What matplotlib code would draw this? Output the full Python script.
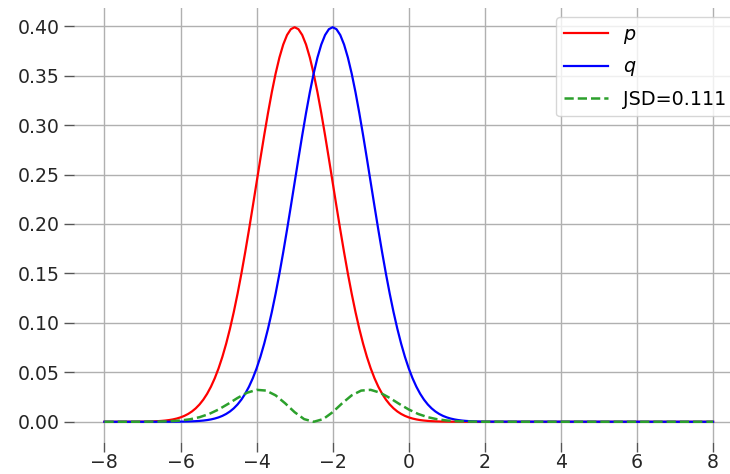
import matplotlib
matplotlib.use("Agg")
import matplotlib.pyplot as plt

# densities of p and q, on a 0.1 grid from -7 to 2
x_pq = [
    -7.0, -6.9, -6.8, -6.7, -6.6, -6.5, -6.4, -6.3, -6.2, -6.1,
    -6.0, -5.9, -5.8, -5.7, -5.6, -5.5, -5.4, -5.3, -5.2, -5.1,
    -5.0, -4.9, -4.8, -4.7, -4.6, -4.5, -4.4, -4.3, -4.2, -4.1,
    -4.0, -3.9, -3.8, -3.7, -3.6, -3.5, -3.4, -3.3, -3.2, -3.1,
    -3.0, -2.9, -2.8, -2.7, -2.6, -2.5, -2.4, -2.3, -2.2, -2.1,
    -2.0, -1.9, -1.8, -1.7, -1.6, -1.5, -1.4, -1.3, -1.2, -1.1,
    -1.0, -0.9, -0.8, -0.7, -0.6, -0.5, -0.4, -0.3, -0.2, -0.1,
    0.0, 0.1, 0.2, 0.3, 0.4, 0.5, 0.6, 0.7, 0.8, 0.9,
    1.0, 1.1, 1.2, 1.3, 1.4, 1.5, 1.6, 1.7, 1.8, 1.9,
    2.0,
]

p = [
    0.000134, 0.000199, 0.000292, 0.000425, 0.000612, 0.000873, 0.001232, 0.001723, 0.002384, 0.003267,
    0.004432, 0.005953, 0.007915, 0.010421, 0.013583, 0.017528, 0.022395, 0.028327, 0.035475, 0.043984,
    0.053991, 0.065616, 0.078950, 0.094049, 0.110921, 0.129518, 0.149727, 0.171369, 0.194186, 0.217852,
    0.241971, 0.266085, 0.289692, 0.312254, 0.333225, 0.352065, 0.368270, 0.381388, 0.391043, 0.396953,
    0.398942, 0.396953, 0.391043, 0.381388, 0.368270, 0.352065, 0.333225, 0.312254, 0.289692, 0.266085,
    0.241971, 0.217852, 0.194186, 0.171369, 0.149727, 0.129518, 0.110921, 0.094049, 0.078950, 0.065616,
    0.053991, 0.043984, 0.035475, 0.028327, 0.022395, 0.017528, 0.013583, 0.010421, 0.007915, 0.005953,
    0.004432, 0.003267, 0.002384, 0.001723, 0.001232, 0.000873, 0.000612, 0.000425, 0.000292, 0.000199,
    0.000134, 0.000089, 0.000059, 0.000039, 0.000025, 0.000016, 0.000010, 0.000006, 0.000004, 0.000002,
    0.000001,
]

q = [
    0.000001, 0.000002, 0.000004, 0.000006, 0.000010, 0.000016, 0.000025, 0.000039, 0.000059, 0.000089,
    0.000134, 0.000199, 0.000292, 0.000425, 0.000612, 0.000873, 0.001232, 0.001723, 0.002384, 0.003267,
    0.004432, 0.005953, 0.007915, 0.010421, 0.013583, 0.017528, 0.022395, 0.028327, 0.035475, 0.043984,
    0.053991, 0.065616, 0.078950, 0.094049, 0.110921, 0.129518, 0.149727, 0.171369, 0.194186, 0.217852,
    0.241971, 0.266085, 0.289692, 0.312254, 0.333225, 0.352065, 0.368270, 0.381388, 0.391043, 0.396953,
    0.398942, 0.396953, 0.391043, 0.381388, 0.368270, 0.352065, 0.333225, 0.312254, 0.289692, 0.266085,
    0.241971, 0.217852, 0.194186, 0.171369, 0.149727, 0.129518, 0.110921, 0.094049, 0.078950, 0.065616,
    0.053991, 0.043984, 0.035475, 0.028327, 0.022395, 0.017528, 0.013583, 0.010421, 0.007915, 0.005953,
    0.004432, 0.003267, 0.002384, 0.001723, 0.001232, 0.000873, 0.000612, 0.000425, 0.000292, 0.000199,
    0.000134,
]

# pointwise JSD term, 0.25 grid
x_jsd = [
    -7.0, -6.75, -6.5, -6.25, -6.0, -5.75, -5.5, -5.25, -5.0, -4.75,
    -4.5, -4.25, -4.0, -3.75, -3.5, -3.25, -3.0, -2.75, -2.5, -2.25,
    -2.0, -1.75, -1.5, -1.25, -1.0, -0.75, -0.5, -0.25, 0.0, 0.25,
    0.5, 0.75, 1.0, 1.25, 1.5, 1.75, 2.0,
]
jsd = [
    0.00004, 0.00012, 0.00028, 0.0006, 0.00129, 0.00252, 0.00463, 0.00787, 0.01241, 0.01805,
    0.0241, 0.02936, 0.03228, 0.03154, 0.02672, 0.01869, 0.00971, 0.00267, 0.0, 0.00267,
    0.00971, 0.01869, 0.02672, 0.03154, 0.03228, 0.02936, 0.0241, 0.01805, 0.01241, 0.00787,
    0.00463, 0.00252, 0.00129, 0.0006, 0.00028, 0.00012, 0.00004,
]
jsd_total = 0.111

# flat tails out to the plot ends
x_left, x_right = -8.0, 8.0

plt.rcParams["font.family"] = ["DejaVu Sans"]
plt.rcParams["font.size"] = 13.6

W, H = 730, 474
fig = plt.figure(figsize=(W / 100, H / 100), dpi=100)
# axes runs past the right border, like the cropped original
ax = fig.add_axes([74 / W, (H - 441.5) / H, (743.5 - 74) / W, (441.5 - 7.5) / H])

ax.plot([x_left] + x_pq + [x_right], [0.0] + p + [0.0], color="red", lw=1.6, label="$p$")
ax.plot([x_left] + x_pq + [x_right], [0.0] + q + [0.0], color="blue", lw=1.6, label="$q$")
ax.plot([x_left] + x_jsd + [x_right], [0.0] + jsd + [0.0], color="#2ca02c", lw=1.8, ls="--",
        label=f"JSD={jsd_total:.3f}")

ax.set_xticks(range(-8, 9, 2))
ax.set_yticks([i * 0.05 for i in range(9)])
ax.grid(True, color="#b0b0b0", lw=1.0)
ax.set_axisbelow(True)
for s in ax.spines.values():
    s.set_visible(False)
ax.tick_params(length=7, width=1, color="#555555", labelcolor="#262626")
ax.tick_params(axis="x", length=7, pad=1.5)

ax.legend(loc="upper right", fontsize=13.8, handlelength=2.3, labelspacing=0.6, handletextpad=0.8)

fig.savefig("out.png", dpi=100)
